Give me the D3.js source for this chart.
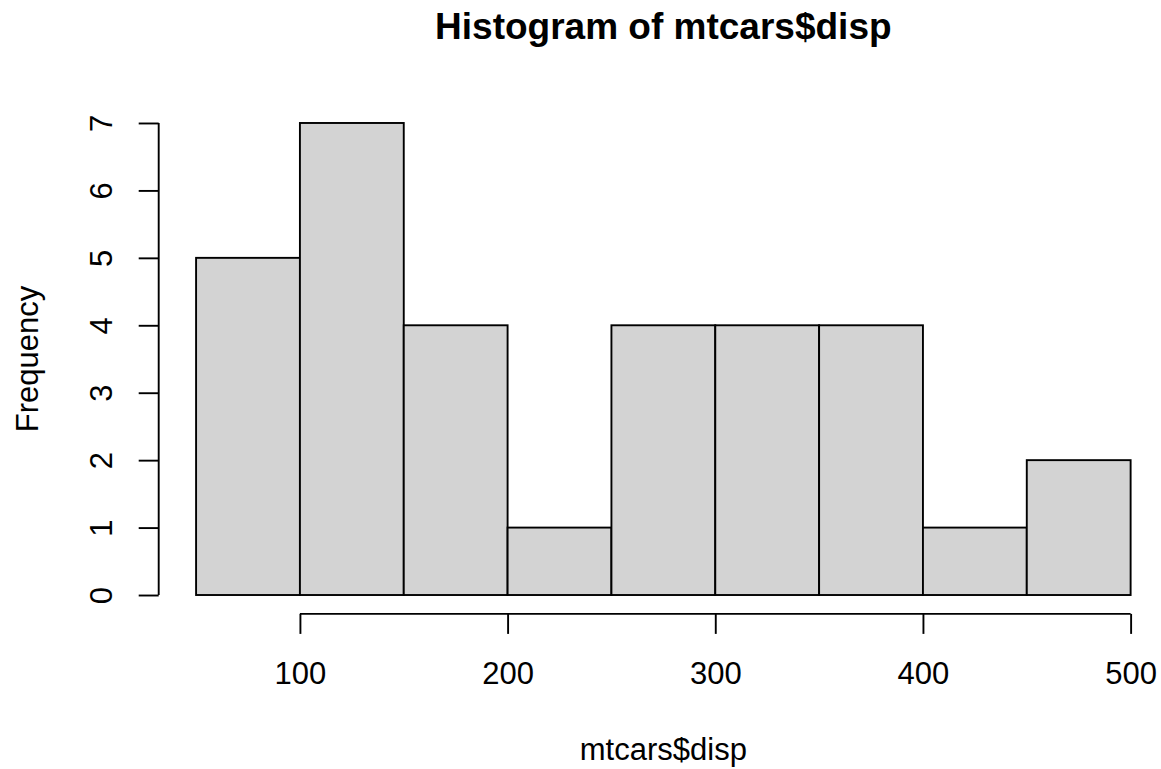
<!DOCTYPE html>
<html>
<head>
<meta charset="utf-8">
<script src="https://cdnjs.cloudflare.com/ajax/libs/d3/7.8.5/d3.min.js"></script>
<style>
  body { margin: 0; background: #fff; }
  svg text { font-family: "Liberation Sans", Arial, Helvetica, sans-serif; fill: #000; }
</style>
</head>
<body>
<div id="chart"></div>
<script>
// histogram bins of mtcars$disp
var breaks = [50, 100, 150, 200, 250, 300, 350, 400, 450, 500];
var counts = [5, 7, 4, 1, 4, 4, 4, 1, 2];
var xTicks = [100, 200, 300, 400, 500];
var yTicks = [0, 1, 2, 3, 4, 5, 6, 7];

var width = 1161;
var height = 769;
var lineW = 1.9;

var bins = counts.map(function(c, i) {
  return { x0: breaks[i], x1: breaks[i + 1], n: c };
});

var svg = d3.select('#chart').append('svg')
  .attr('width', width)
  .attr('height', height);

// plot region (R style, 4% extension)
var plotLeft = 158.7, plotRight = 1168, plotTop = 104.1, plotBottom = 613.9;

var xScale = d3.scaleLinear()
  .domain([32, 518])
  .range([plotLeft, plotRight]);

var yScale = d3.scaleLinear()
  .domain([-0.28, 7.28])
  .range([plotBottom, plotTop]);

// bars
svg.selectAll('.bar')
  .data(bins)
  .enter()
  .append('rect')
  .attr('class', 'bar')
  .attr('x', function(d) { return xScale(d.x0); })
  .attr('y', function(d) { return yScale(d.n); })
  .attr('width', function(d) { return xScale(d.x1) - xScale(d.x0); })
  .attr('height', function(d) { return yScale(0) - yScale(d.n); })
  .style('fill', '#d3d3d3')
  .style('stroke', '#000')
  .style('stroke-width', lineW);

// x axis
var xAxis = d3.axisBottom(xScale)
  .tickValues(xTicks)
  .tickSize(20)
  .tickSizeOuter(0);

var gx = svg.append('g')
  .attr('transform', 'translate(0,' + plotBottom + ')')
  .call(xAxis);
gx.select('.domain').remove();
gx.selectAll('line').style('stroke-width', lineW);
gx.selectAll('text')
  .attr('y', 70)
  .attr('dy', 0)
  .style('font-size', '31px');
gx.append('line')
  .attr('x1', xScale(xTicks[0]))
  .attr('x2', xScale(xTicks[xTicks.length - 1]))
  .style('stroke', '#000')
  .style('stroke-width', lineW);

// y axis
var yAxis = d3.axisLeft(yScale)
  .tickValues(yTicks)
  .tickSize(20)
  .tickSizeOuter(0);

var gy = svg.append('g')
  .attr('transform', 'translate(' + plotLeft + ',0)')
  .call(yAxis);
gy.select('.domain').remove();
gy.selectAll('line').style('stroke-width', lineW);
gy.selectAll('text')
  .attr('transform', 'rotate(-90)')
  .attr('x', 0)
  .attr('y', -47)
  .attr('dy', 0)
  .attr('text-anchor', 'middle')
  .style('font-size', '31px');
gy.append('line')
  .attr('y1', yScale(yTicks[0]))
  .attr('y2', yScale(yTicks[yTicks.length - 1]))
  .style('stroke', '#000')
  .style('stroke-width', lineW);

var midX = (plotLeft + plotRight) / 2;
var midY = (plotTop + plotBottom) / 2;

// title and labels
svg.append('text')
  .attr('x', midX)
  .attr('y', 39)
  .attr('text-anchor', 'middle')
  .style('font-size', '37px')
  .style('font-weight', 'bold')
  .text('Histogram of mtcars$disp');

svg.append('text')
  .attr('x', midX)
  .attr('y', 760)
  .attr('text-anchor', 'middle')
  .style('font-size', '31px')
  .text('mtcars$disp');

svg.append('text')
  .attr('transform', 'translate(38,' + midY + ') rotate(-90)')
  .attr('text-anchor', 'middle')
  .style('font-size', '31px')
  .text('Frequency');
</script>
</body>
</html>
